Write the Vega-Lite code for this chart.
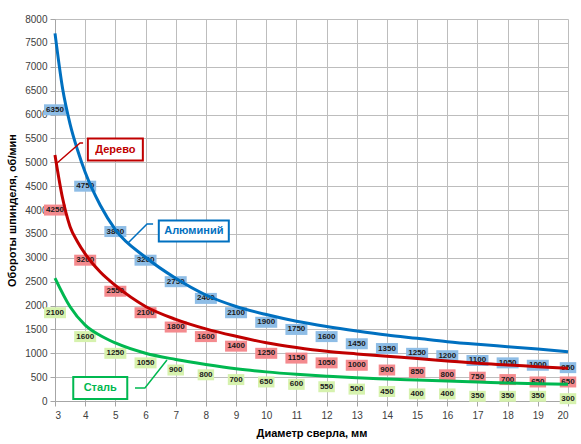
{
  "$schema": "https://vega.github.io/schema/vega-lite/v6.json",
  "width": 513,
  "height": 382,
  "autosize": "none",
  "padding": {"left": 55, "top": 19, "right": 13, "bottom": 43},
  "background": "white",
  "config": {
    "view": {"stroke": null},
    "font": "Liberation Sans",
    "axis": {
      "gridColor": "#BDBDBD",
      "gridWidth": 1,
      "domainColor": "#A6A6A6",
      "tickColor": "#A6A6A6",
      "tickSize": 5,
      "labelFont": "Liberation Sans",
      "labelFontSize": 10,
      "labelColor": "#404040",
      "titleFont": "Liberation Sans",
      "titleFontSize": 11,
      "titleFontWeight": "bold",
      "titleColor": "#000000"
    }
  },
  "datasets": {
    "curves": [
      {"d": 3, "rpm": 7700, "mat": "Алюминий"},
      {"d": 3.25, "rpm": 6550, "mat": "Алюминий"},
      {"d": 3.5, "rpm": 5800, "mat": "Алюминий"},
      {"d": 3.75, "rpm": 5250, "mat": "Алюминий"},
      {"d": 4, "rpm": 4790, "mat": "Алюминий"},
      {"d": 4.5, "rpm": 4100, "mat": "Алюминий"},
      {"d": 5, "rpm": 3590, "mat": "Алюминий"},
      {"d": 6, "rpm": 3010, "mat": "Алюминий"},
      {"d": 7, "rpm": 2570, "mat": "Алюминий"},
      {"d": 8, "rpm": 2220, "mat": "Алюминий"},
      {"d": 9, "rpm": 1980, "mat": "Алюминий"},
      {"d": 10, "rpm": 1810, "mat": "Алюминий"},
      {"d": 11, "rpm": 1670, "mat": "Алюминий"},
      {"d": 12, "rpm": 1560, "mat": "Алюминий"},
      {"d": 13, "rpm": 1466, "mat": "Алюминий"},
      {"d": 14, "rpm": 1382, "mat": "Алюминий"},
      {"d": 15, "rpm": 1313, "mat": "Алюминий"},
      {"d": 16, "rpm": 1243, "mat": "Алюминий"},
      {"d": 17, "rpm": 1187, "mat": "Алюминий"},
      {"d": 18, "rpm": 1138, "mat": "Алюминий"},
      {"d": 19, "rpm": 1089, "mat": "Алюминий"},
      {"d": 20, "rpm": 1033, "mat": "Алюминий"},
      {"d": 3, "rpm": 5150, "mat": "Дерево"},
      {"d": 3.25, "rpm": 4250, "mat": "Дерево"},
      {"d": 3.5, "rpm": 3650, "mat": "Дерево"},
      {"d": 3.75, "rpm": 3330, "mat": "Дерево"},
      {"d": 4, "rpm": 3080, "mat": "Дерево"},
      {"d": 4.5, "rpm": 2700, "mat": "Дерево"},
      {"d": 5, "rpm": 2420, "mat": "Дерево"},
      {"d": 6, "rpm": 1980, "mat": "Дерево"},
      {"d": 7, "rpm": 1710, "mat": "Дерево"},
      {"d": 8, "rpm": 1510, "mat": "Дерево"},
      {"d": 9, "rpm": 1355, "mat": "Дерево"},
      {"d": 10, "rpm": 1220, "mat": "Дерево"},
      {"d": 11, "rpm": 1120, "mat": "Дерево"},
      {"d": 12, "rpm": 1040, "mat": "Дерево"},
      {"d": 13, "rpm": 985, "mat": "Дерево"},
      {"d": 14, "rpm": 935, "mat": "Дерево"},
      {"d": 15, "rpm": 890, "mat": "Дерево"},
      {"d": 16, "rpm": 838, "mat": "Дерево"},
      {"d": 17, "rpm": 789, "mat": "Дерево"},
      {"d": 18, "rpm": 754, "mat": "Дерево"},
      {"d": 19, "rpm": 719, "mat": "Дерево"},
      {"d": 20, "rpm": 684, "mat": "Дерево"},
      {"d": 3, "rpm": 2575, "mat": "Сталь"},
      {"d": 3.5, "rpm": 1975, "mat": "Сталь"},
      {"d": 4, "rpm": 1590, "mat": "Сталь"},
      {"d": 4.5, "rpm": 1370, "mat": "Сталь"},
      {"d": 5, "rpm": 1215, "mat": "Сталь"},
      {"d": 6, "rpm": 1000, "mat": "Сталь"},
      {"d": 7, "rpm": 870, "mat": "Сталь"},
      {"d": 8, "rpm": 765, "mat": "Сталь"},
      {"d": 9, "rpm": 675, "mat": "Сталь"},
      {"d": 10, "rpm": 610, "mat": "Сталь"},
      {"d": 11, "rpm": 560, "mat": "Сталь"},
      {"d": 12, "rpm": 520, "mat": "Сталь"},
      {"d": 13, "rpm": 485, "mat": "Сталь"},
      {"d": 14, "rpm": 461, "mat": "Сталь"},
      {"d": 15, "rpm": 440, "mat": "Сталь"},
      {"d": 16, "rpm": 419, "mat": "Сталь"},
      {"d": 17, "rpm": 398, "mat": "Сталь"},
      {"d": 18, "rpm": 377, "mat": "Сталь"},
      {"d": 19, "rpm": 363, "mat": "Сталь"},
      {"d": 20, "rpm": 349, "mat": "Сталь"}
    ],
    "labels": [
      {"d": 3, "rpm": 6350, "mat": "Алюминий"},
      {"d": 4, "rpm": 4750, "mat": "Алюминий"},
      {"d": 5, "rpm": 3800, "mat": "Алюминий"},
      {"d": 6, "rpm": 3200, "mat": "Алюминий"},
      {"d": 7, "rpm": 2750, "mat": "Алюминий"},
      {"d": 8, "rpm": 2400, "mat": "Алюминий"},
      {"d": 9, "rpm": 2100, "mat": "Алюминий"},
      {"d": 10, "rpm": 1900, "mat": "Алюминий"},
      {"d": 11, "rpm": 1750, "mat": "Алюминий"},
      {"d": 12, "rpm": 1600, "mat": "Алюминий"},
      {"d": 13, "rpm": 1450, "mat": "Алюминий"},
      {"d": 14, "rpm": 1350, "mat": "Алюминий"},
      {"d": 15, "rpm": 1250, "mat": "Алюминий"},
      {"d": 16, "rpm": 1200, "mat": "Алюминий"},
      {"d": 17, "rpm": 1100, "mat": "Алюминий"},
      {"d": 18, "rpm": 1050, "mat": "Алюминий"},
      {"d": 19, "rpm": 1000, "mat": "Алюминий"},
      {"d": 20, "rpm": 950, "mat": "Алюминий"},
      {"d": 3, "rpm": 4250, "mat": "Дерево"},
      {"d": 4, "rpm": 3200, "mat": "Дерево"},
      {"d": 5, "rpm": 2550, "mat": "Дерево"},
      {"d": 6, "rpm": 2100, "mat": "Дерево"},
      {"d": 7, "rpm": 1800, "mat": "Дерево"},
      {"d": 8, "rpm": 1600, "mat": "Дерево"},
      {"d": 9, "rpm": 1400, "mat": "Дерево"},
      {"d": 10, "rpm": 1250, "mat": "Дерево"},
      {"d": 11, "rpm": 1150, "mat": "Дерево"},
      {"d": 12, "rpm": 1050, "mat": "Дерево"},
      {"d": 13, "rpm": 1000, "mat": "Дерево"},
      {"d": 14, "rpm": 900, "mat": "Дерево"},
      {"d": 15, "rpm": 850, "mat": "Дерево"},
      {"d": 16, "rpm": 800, "mat": "Дерево"},
      {"d": 17, "rpm": 750, "mat": "Дерево"},
      {"d": 18, "rpm": 700, "mat": "Дерево"},
      {"d": 19, "rpm": 650, "mat": "Дерево"},
      {"d": 20, "rpm": 650, "mat": "Дерево"},
      {"d": 3, "rpm": 2100, "mat": "Сталь"},
      {"d": 4, "rpm": 1600, "mat": "Сталь"},
      {"d": 5, "rpm": 1250, "mat": "Сталь"},
      {"d": 6, "rpm": 1050, "mat": "Сталь"},
      {"d": 7, "rpm": 900, "mat": "Сталь"},
      {"d": 8, "rpm": 800, "mat": "Сталь"},
      {"d": 9, "rpm": 700, "mat": "Сталь"},
      {"d": 10, "rpm": 650, "mat": "Сталь"},
      {"d": 11, "rpm": 600, "mat": "Сталь"},
      {"d": 12, "rpm": 550, "mat": "Сталь"},
      {"d": 13, "rpm": 500, "mat": "Сталь"},
      {"d": 14, "rpm": 450, "mat": "Сталь"},
      {"d": 15, "rpm": 400, "mat": "Сталь"},
      {"d": 16, "rpm": 400, "mat": "Сталь"},
      {"d": 17, "rpm": 350, "mat": "Сталь"},
      {"d": 18, "rpm": 350, "mat": "Сталь"},
      {"d": 19, "rpm": 350, "mat": "Сталь"},
      {"d": 20, "rpm": 300, "mat": "Сталь"}
    ],
    "notes": [
      {"mat": "Алюминий", "d": 7.6, "rpm": 3560},
      {"mat": "Дерево", "d": 5.0, "rpm": 5267},
      {"mat": "Сталь", "d": 4.5, "rpm": 272}
    ],
    "leaders": [
      {"mat": "Алюминий", "i": 1, "d": 6.25, "rpm": 3707},
      {"mat": "Алюминий", "i": 2, "d": 6.05, "rpm": 3707},
      {"mat": "Алюминий", "i": 3, "d": 5.42, "rpm": 3309},
      {"mat": "Дерево", "i": 1, "d": 3.93, "rpm": 5403},
      {"mat": "Дерево", "i": 2, "d": 3.83, "rpm": 5403},
      {"mat": "Дерево", "i": 3, "d": 3.07, "rpm": 4984},
      {"mat": "Сталь", "i": 1, "d": 5.65, "rpm": 272},
      {"mat": "Сталь", "i": 2, "d": 5.98, "rpm": 272},
      {"mat": "Сталь", "i": 3, "d": 6.71, "rpm": 859}
    ]
  },
  "encoding": {
    "x": {
      "field": "d",
      "type": "quantitative",
      "scale": {"domain": [3, 20], "nice": false, "zero": false},
      "axis": {
        "title": "Диаметр сверла, мм",
        "values": [3, 4, 5, 6, 7, 8, 9, 10, 11, 12, 13, 14, 15, 16, 17, 18, 19, 20],
        "labelPadding": 4,
        "titlePadding": 7
      }
    },
    "y": {
      "field": "rpm",
      "type": "quantitative",
      "scale": {"domain": [0, 8000], "nice": false},
      "axis": {
        "title": "Обороты шпинделя, об/мин",
        "format": "d",
        "values": [0, 500, 1000, 1500, 2000, 2500, 3000, 3500, 4000, 4500, 5000, 5500, 6000, 6500, 7000, 7500, 8000],
        "labelPadding": 3,
        "titlePadding": 7
      }
    }
  },
  "layer": [
    {
      "data": {"name": "labels"},
      "transform": [{"filter": "datum.rpm >= 1000"}],
      "mark": {"type": "point", "filled": true, "opacity": 1, "size": 100, "strokeWidth": 0, "yOffset": 12, "shape": "M-2.2,-1.1H2.2V1.1H-2.2Z"},
      "encoding": {
        "fill": {
          "field": "mat",
          "type": "nominal",
          "scale": {"domain": ["Алюминий", "Дерево", "Сталь"], "range": ["#8EBDE6", "#F48A8E", "#D6F2AE"]},
          "legend": null
        }
      }
    },
    {
      "data": {"name": "labels"},
      "transform": [{"filter": "datum.rpm < 1000"}],
      "mark": {"type": "point", "filled": true, "opacity": 1, "size": 100, "strokeWidth": 0, "yOffset": 12, "shape": "M-1.65,-1.1H1.65V1.1H-1.65Z"},
      "encoding": {
        "fill": {"field": "mat", "type": "nominal", "legend": null}
      }
    },
    {
      "data": {"name": "labels"},
      "mark": {"type": "text", "fontSize": 8, "fontWeight": "bold", "color": "#1A1A1A", "baseline": "middle", "align": "center", "yOffset": 12},
      "encoding": {
        "text": {"field": "rpm", "type": "quantitative", "format": "d"}
      }
    },
    {
      "data": {"name": "curves"},
      "mark": {"type": "line", "interpolate": "monotone", "strokeWidth": 3},
      "encoding": {
        "stroke": {
          "field": "mat",
          "type": "nominal",
          "scale": {"domain": ["Алюминий", "Дерево", "Сталь"], "range": ["#0070C0", "#C00000", "#00B850"]},
          "legend": null
        }
      }
    },
    {
      "data": {"name": "leaders"},
      "mark": {"type": "line", "strokeWidth": 1.5},
      "encoding": {
        "stroke": {"field": "mat", "type": "nominal", "legend": null},
        "order": {"field": "i", "type": "quantitative"}
      }
    },
    {
      "data": {"name": "notes"},
      "mark": {"type": "point", "filled": false, "fill": "white", "fillOpacity": 1, "opacity": 1, "size": 100, "strokeWidth": 2},
      "encoding": {
        "stroke": {"field": "mat", "type": "nominal", "legend": null},
        "shape": {
          "field": "mat",
          "type": "nominal",
          "scale": {
            "domain": ["Алюминий", "Дерево", "Сталь"],
            "range": ["M-7,-2.1H7V2.1H-7Z", "M-5.5,-2.2H5.5V2.2H-5.5Z", "M-5.4,-2.2H5.4V2.2H-5.4Z"]
          },
          "legend": null
        }
      }
    },
    {
      "data": {"name": "notes"},
      "mark": {"type": "text", "fontSize": 11, "fontWeight": "bold", "baseline": "middle", "align": "center"},
      "encoding": {
        "text": {"field": "mat", "type": "nominal"},
        "color": {
          "field": "mat",
          "type": "nominal",
          "scale": {"domain": ["Алюминий", "Дерево", "Сталь"], "range": ["#0070C0", "#C00000", "#00B850"]},
          "legend": null
        }
      }
    }
  ]
}
